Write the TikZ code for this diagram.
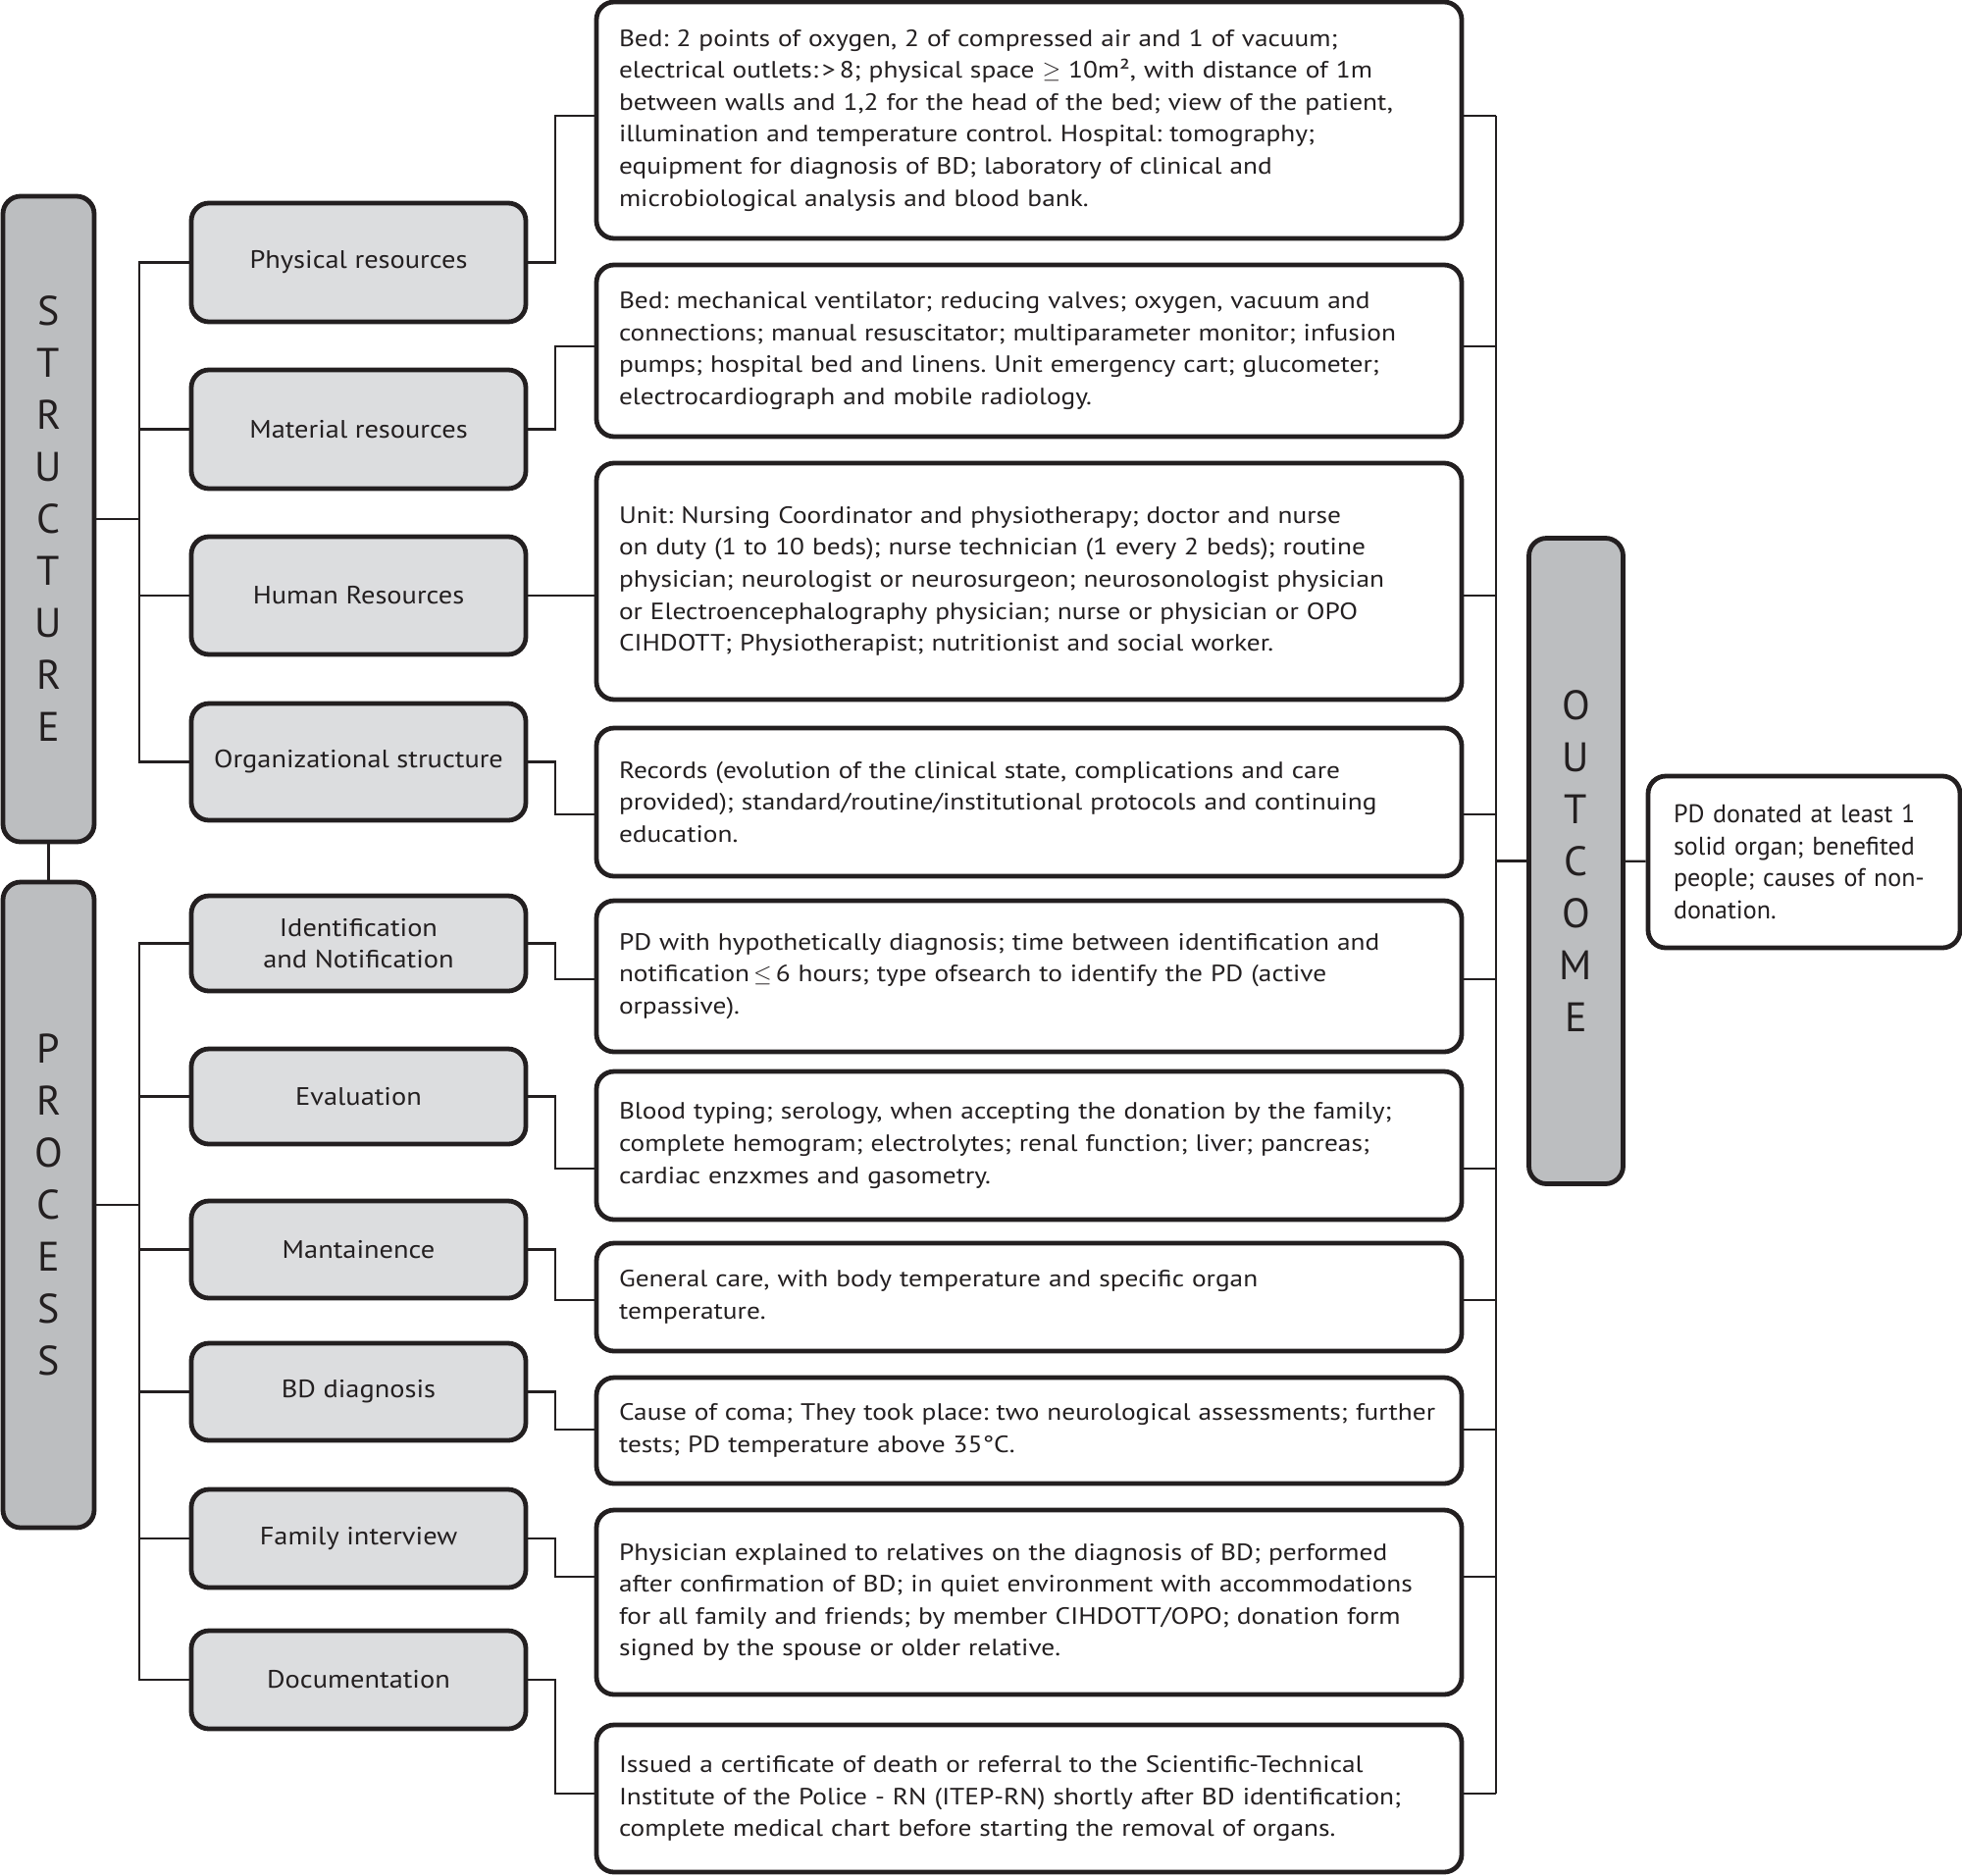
\documentclass[tikz,border=0pt]{standalone}
\usepackage{fontspec}
\setmainfont{PT Sans}
\newfontfamily\widefont[FakeStretch=1.11]{PT Sans}
\newfontfamily\detailfont[FakeStretch=1.14]{PT Sans}
\usepackage{tikz}
\usetikzlibrary{positioning,calc}
\frenchspacing

\definecolor{ink}{RGB}{35,31,32}
\definecolor{bargray}{RGB}{188,190,192}
\definecolor{boxgray}{RGB}{220,221,223}

\tikzset{
  box/.style={draw=ink, line width=2.4pt, rounded corners=9pt, text=ink, inner sep=0pt},
  bar/.style={box, fill=bargray, minimum width=46.5pt, minimum height=329pt, align=center, font=\fontsize{21}{26.5}\selectfont},
  topic/.style={box, fill=boxgray, minimum width=170.5pt, align=center, font=\widefont\fontsize{12.8}{16}\selectfont},
  detail/.style={box, fill=white, minimum width=441pt, text width=418pt, align=left, font=\detailfont\fontsize{12}{16.3}\selectfont},
  link/.style={draw=ink, line width=1.1pt},
}

\begin{document}
\begin{tikzpicture}[x=0.5pt, y=-0.5pt]
\useasboundingbox (0,0) rectangle (2000,1911);

% the three main blocks
\draw (49.5,529) node[bar] (S) {S\\T\\R\\U\\C\\T\\U\\R\\E};
\draw (49.5,1228) node[bar] (P) {P\\R\\O\\C\\E\\S\\S};
\draw (1606.5,877.5) node[bar, minimum width=48pt] (O) {O\\U\\T\\C\\O\\M\\E};

% topics
\draw (365.5,267.5) node[topic, minimum height=60.5pt] (phys) {Physical resources};
\draw (365.5,437.5) node[topic, minimum height=60.5pt] (mat) {Material resources};
\draw (365.5,607) node[topic, minimum height=60pt] (hum) {Human Resources};
\draw (365.5,776.5) node[topic, minimum height=59.5pt] (org) {Organizational structure};
\draw (365.5,961.5) node[topic, minimum height=48.5pt] (iden) {Identification\\and Notification};
\draw (365.5,1117.5) node[topic, minimum height=48.5pt] (eval) {Evaluation};
\draw (365.5,1273.5) node[topic, minimum height=49.5pt] (mant) {Mantainence};
\draw (365.5,1418.5) node[topic, minimum height=49.5pt] (bdd) {BD diagnosis};
\draw (365.5,1568) node[topic, minimum height=50pt] (fam) {Family interview};
\draw (365.5,1712) node[topic, minimum height=50pt] (doc) {Documentation};

% details
\draw (1049,122.5) node[detail, minimum height=120.5pt] (d1) {Bed: 2 points of oxygen, 2 of compressed air and 1 of vacuum;\\
electrical outlets:\,>\,8; physical space $\geq$ 10m², with distance of 1m\\
between walls and 1,2 for the head of the bed; view of the patient,\\
illumination and temperature control. Hospital: tomography;\\
equipment for diagnosis of BD; laboratory of clinical and\\
microbiological analysis and blood bank.};
\draw (1049,357.5) node[detail, minimum height=87.5pt] (d2) {Bed: mechanical ventilator; reducing valves; oxygen, vacuum and\\
connections; manual resuscitator; multiparameter monitor; infusion\\
pumps; hospital bed and linens. Unit emergency cart; glucometer;\\
electrocardiograph and mobile radiology.};
\draw (1049,592.5) node[detail, minimum height=120.5pt] (d3) {Unit: Nursing Coordinator and physiotherapy; doctor and nurse\\
on duty (1 to 10 beds); nurse technician (1 every 2 beds); routine\\
physician; neurologist or neurosurgeon; neurosonologist physician\\
or Electroencephalography physician; nurse or physician or OPO\\
CIHDOTT; Physiotherapist; nutritionist and social worker.};
\draw (1049,817.5) node[detail, minimum height=75.5pt] (d4) {Records (evolution of the clinical state, complications and care\\
provided); standard/routine/institutional protocols and continuing\\
education.};
\draw (1049,995) node[detail, minimum height=77pt] (d5) {PD with hypothetically diagnosis; time between identification and\\
notification$\,\leq\,$6 hours; type ofsearch to identify the PD (active\\
orpassive).};
\draw (1049,1167.5) node[detail, minimum height=75.5pt] (d6) {Blood typing; serology, when accepting the donation by the family;\\
complete hemogram; electrolytes; renal function; liver; pancreas;\\
cardiac enzxmes and gasometry.};
\draw (1049,1322) node[detail, minimum height=55pt] (d7) {General care, with body temperature and specific organ\\
temperature.};
\draw (1049,1458) node[detail, minimum height=54pt] (d8) {Cause of coma; They took place: two neurological assessments; further\\
tests; PD temperature above 35°C.};
\draw (1049,1633) node[detail, minimum height=94pt] (d9) {Physician explained to relatives on the diagnosis of BD; performed\\
after confirmation of BD; in quiet environment with accommodations\\
for all family and friends; by member CIHDOTT/OPO; donation form\\
signed by the spouse or older relative.};
\draw (1049,1833) node[detail, minimum height=75pt] (d10) {Issued a certificate of death or referral to the Scientific-Technical\\
Institute of the Police - RN (ITEP-RN) shortly after BD identification;\\
complete medical chart before starting the removal of organs.};

% outcome
\draw (1839,878.5) node[box, fill=white, minimum width=159pt, minimum height=87.5pt, text width=133pt, align=left, font=\fontsize{13}{16.3}\selectfont] (res) {PD donated at least 1\\
solid organ; benefited\\
people; causes of non-\\
donation.};

% trunks
\coordinate (lt) at (142,0);
\coordinate (elb) at (566,0);
\coordinate (rt) at (1525,0);

\draw[link] (S) -- (P);
\draw[link] (S.east) -- (S.east -| lt);
\draw[link] (phys.west) -| (lt |- org.west) -- (org.west);
\foreach \n in {mat,hum}
  \draw[link] (\n.west) -- (\n.west -| lt);
\draw[link] (P.east) -- (P.east -| lt);
\draw[link] (iden.west) -| (lt |- doc.west) -- (doc.west);
\foreach \n in {eval,mant,bdd,fam}
  \draw[link] (\n.west) -- (\n.west -| lt);

% topic to detail, then detail to the right trunk
\foreach \a/\b/\s in {phys/d1/-4.5,mat/d2/-4.5,org/d4/12.5,iden/d5/3,eval/d6/23.5,mant/d7/3,bdd/d8/-1,fam/d9/-26,doc/d10/-5}{
  \draw[link] (\a.east) -- (\a.east -| elb) |- ($(\b.west)+(0,\s)$);
  \draw[link] ($(\b.east)+(0,\s)$) -- ($(\b.east -| rt)+(0,\s)$);
}
\draw[link] (hum.east) -- (hum.east -| d3.west);
\draw[link] (d3.east |- hum.east) -- (rt |- hum.east);
\draw[link] ($(d1.east -| rt)+(0,-4.5)$) -- ($(d10.east -| rt)+(0,-5)$);

% outcome
\draw[link] (O.west) -- (O.west -| rt);
\draw[link] (O) -- (res);

\end{tikzpicture}
\end{document}
